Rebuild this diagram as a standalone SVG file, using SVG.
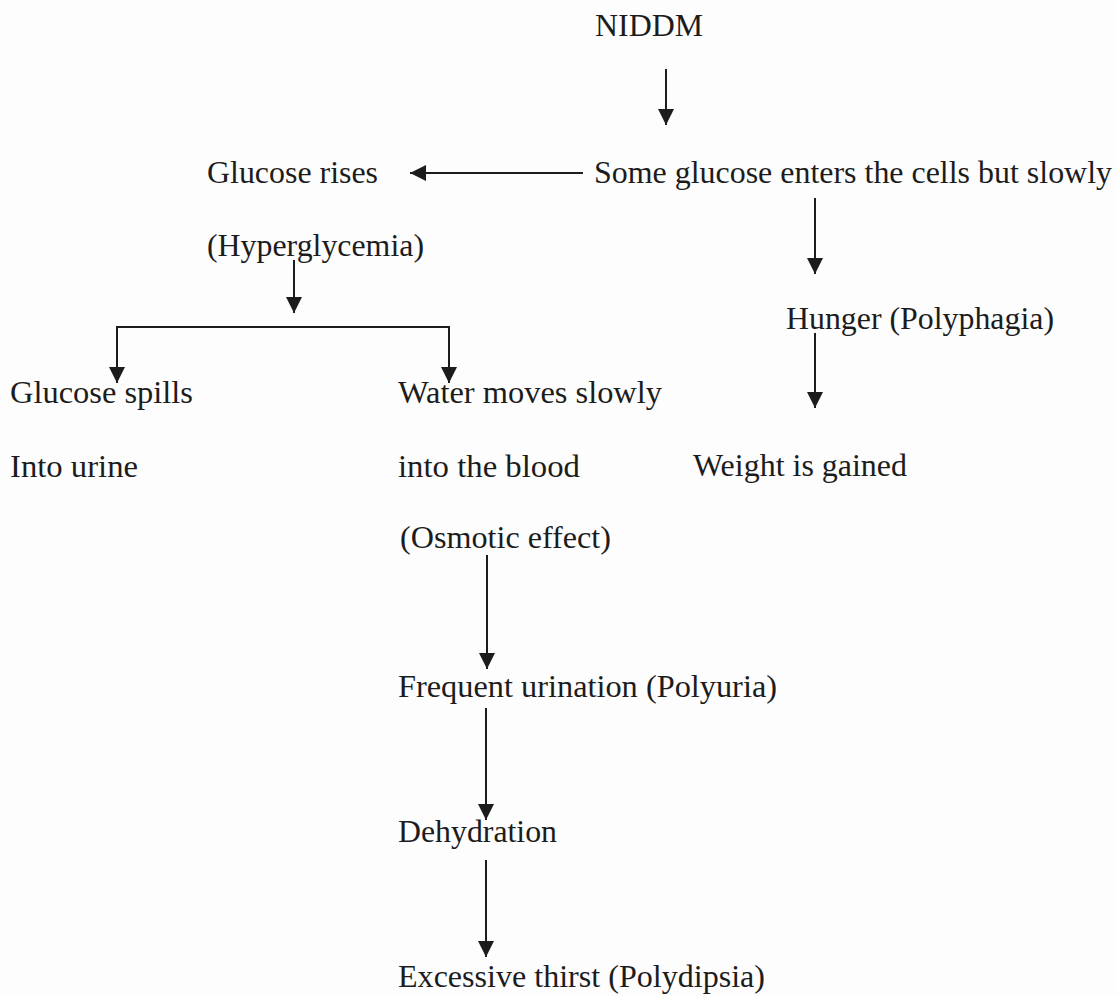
<svg xmlns="http://www.w3.org/2000/svg" width="1117" height="996" viewBox="0 0 1117 996">
<style>
.t{font-family:"Liberation Serif","Times New Roman",serif;font-size:32px;fill:#1c1c1c}
.c{stroke:#1c1c1c;stroke-width:2;fill:none}
</style>
<defs>
<marker id="ah" viewBox="0 0 16 16" refX="16" refY="8" markerUnits="userSpaceOnUse" markerWidth="16" markerHeight="16" orient="auto">
<path d="M0,0 L16,8 L0,16 z" fill="#1c1c1c"/>
</marker>
</defs>
<rect width="1117" height="996" fill="#fdfdfd"/>
<g id="connectors">
<line class="c" x1="666" y1="69" x2="666" y2="125" marker-end="url(#ah)"/>
<line class="c" x1="583" y1="173" x2="410" y2="173" marker-end="url(#ah)"/>
<line class="c" x1="815" y1="198" x2="815" y2="274" marker-end="url(#ah)"/>
<line class="c" x1="294" y1="260" x2="294" y2="313" marker-end="url(#ah)"/>
<line class="c" x1="117" y1="327" x2="449" y2="327"/>
<line class="c" x1="117" y1="326" x2="117" y2="383" marker-end="url(#ah)"/>
<line class="c" x1="449" y1="326" x2="449" y2="383" marker-end="url(#ah)"/>
<line class="c" x1="815" y1="333" x2="815" y2="408" marker-end="url(#ah)"/>
<line class="c" x1="487" y1="555" x2="487" y2="669" marker-end="url(#ah)"/>
<line class="c" x1="486" y1="708" x2="486" y2="820" marker-end="url(#ah)"/>
<line class="c" x1="486" y1="860" x2="486" y2="957" marker-end="url(#ah)"/>
</g>
<g id="n-niddm"><text class="t" x="595" y="36" textLength="108" lengthAdjust="spacingAndGlyphs">NIDDM</text></g>
<g id="n-some"><text class="t" x="594" y="183" textLength="518" lengthAdjust="spacingAndGlyphs">Some glucose enters the cells but slowly</text></g>
<g id="n-rises">
<text class="t" x="207" y="183" textLength="171" lengthAdjust="spacingAndGlyphs">Glucose rises</text>
<text class="t" x="207" y="256" textLength="217" lengthAdjust="spacingAndGlyphs">(Hyperglycemia)</text>
</g>
<g id="n-hunger"><text class="t" x="786" y="329" textLength="268" lengthAdjust="spacingAndGlyphs">Hunger (Polyphagia)</text></g>
<g id="n-spills">
<text class="t" x="10" y="403" textLength="183" lengthAdjust="spacingAndGlyphs">Glucose spills</text>
<text class="t" x="10" y="477" textLength="128" lengthAdjust="spacingAndGlyphs">Into urine</text>
</g>
<g id="n-water">
<text class="t" x="398" y="403" textLength="264" lengthAdjust="spacingAndGlyphs">Water moves slowly</text>
<text class="t" x="398" y="477" textLength="182" lengthAdjust="spacingAndGlyphs">into the blood</text>
<text class="t" x="400" y="548" textLength="211" lengthAdjust="spacingAndGlyphs">(Osmotic effect)</text>
</g>
<g id="n-weight"><text class="t" x="693" y="476" textLength="214" lengthAdjust="spacingAndGlyphs">Weight is gained</text></g>
<g id="n-polyuria"><text class="t" x="398" y="697" textLength="379" lengthAdjust="spacingAndGlyphs">Frequent urination (Polyuria)</text></g>
<g id="n-dehydration"><text class="t" x="398" y="842" textLength="159" lengthAdjust="spacingAndGlyphs">Dehydration</text></g>
<g id="n-thirst"><text class="t" x="398" y="987" textLength="367" lengthAdjust="spacingAndGlyphs">Excessive thirst (Polydipsia)</text></g>
</svg>
